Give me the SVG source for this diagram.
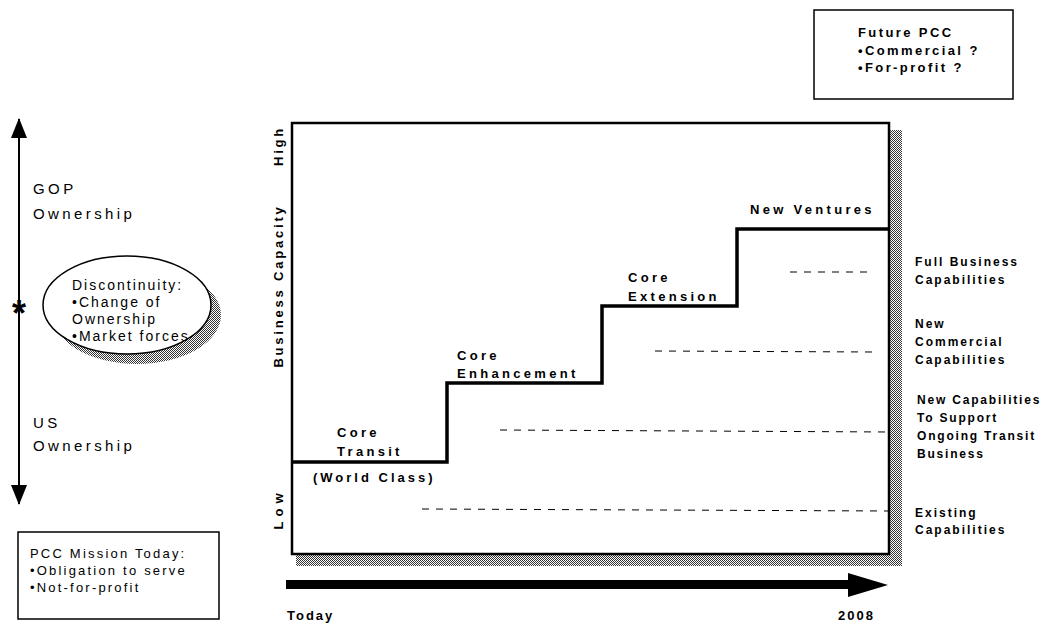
<svg xmlns="http://www.w3.org/2000/svg" width="1059" height="627" viewBox="0 0 1059 627">
<defs>
<pattern id="dots" width="2" height="2" patternUnits="userSpaceOnUse">
<rect width="2" height="2" fill="#fff"/>
<rect width="1" height="1" fill="#333"/>
<rect x="1" y="1" width="1" height="1" fill="#333"/>
</pattern>
<marker id="ah" viewBox="0 0 20 16" refX="19" refY="8" markerWidth="20" markerHeight="16" markerUnits="userSpaceOnUse" orient="auto-start-reverse">
<path d="M0,0 L20,8 L0,16 Z" fill="#000"/>
</marker>
</defs>
<style>
text{font-family:"Liberation Sans",Arial,sans-serif;fill:#000}
.reg{font-size:15px;letter-spacing:3.4px}
.ell{font-size:14px;letter-spacing:2px}
.box{font-size:13px;letter-spacing:2.2px}
.fut{font-size:13px;font-weight:bold;letter-spacing:2.4px}
.bold{font-size:13px;font-weight:bold;letter-spacing:3.3px}
.rl{font-size:12px;font-weight:bold;letter-spacing:2px}
.ax{font-size:13px;font-weight:bold;letter-spacing:2.8px}
.dash{stroke:#000;stroke-width:1;stroke-dasharray:7 7;fill:none}
.frame{fill:#fff;stroke:#000;stroke-width:1.5}
</style>
<rect width="1059" height="627" fill="#fff"/>

<g id="chart">
<rect x="296" y="130" width="606" height="436" fill="url(#dots)"/>
<rect x="292" y="123" width="597" height="431" fill="#fff" stroke="#000" stroke-width="2.5"/>
</g>

<g id="connectors">
<line x1="19" y1="119" x2="19" y2="504" stroke="#000" stroke-width="2" marker-start="url(#ah)" marker-end="url(#ah)"/>
<line class="dash" x1="790" y1="272" x2="872" y2="272"/>
<line class="dash" x1="655" y1="351" x2="872" y2="352"/>
<line class="dash" x1="500" y1="430" x2="889" y2="432"/>
<line class="dash" x1="422" y1="509" x2="889" y2="511"/>
<path d="M292,462 H447 V383 H602 V306 H737 V229 H889" fill="none" stroke="#000" stroke-width="3.5"/>
<rect x="286" y="580" width="564" height="9" fill="#000"/>
<path d="M848,573 L888,585 L848,597 Z" fill="#000"/>
</g>

<g id="star"><text x="19" y="326" text-anchor="middle" style="font-size:36px;font-weight:bold">*</text></g>

<g id="gop"><text class="reg" x="33" y="194">GOP</text><text class="reg" x="33" y="219">Ownership</text></g>
<g id="us"><text class="reg" x="33" y="428">US</text><text class="reg" x="33" y="451">Ownership</text></g>

<g id="discontinuity">
<ellipse cx="137" cy="315" rx="84" ry="49" fill="url(#dots)"/>
<ellipse cx="127" cy="305" rx="84" ry="49" fill="#fff" stroke="#000" stroke-width="1.5"/>
<text class="ell" x="72" y="290">Discontinuity:</text>
<text class="ell" x="72" y="307">•Change of</text>
<text class="ell" x="72" y="324">Ownership</text>
<text class="ell" x="72" y="341">•Market forces</text>
</g>

<g id="mission">
<rect class="frame" x="18" y="532" width="201" height="87"/>
<text class="box" x="30" y="558">PCC Mission Today:</text>
<text class="box" x="30" y="575">•Obligation to serve</text>
<text class="box" x="30" y="592">•Not-for-profit</text>
</g>

<g id="future">
<rect class="frame" x="814" y="10" width="199" height="89"/>
<text class="fut" x="858" y="37">Future PCC</text>
<text class="fut" x="858" y="55">•Commercial ?</text>
<text class="fut" x="858" y="72">•For-profit ?</text>
</g>

<g id="axis-labels">
<text class="ax" transform="translate(283,146) rotate(-90)" text-anchor="middle">High</text>
<text class="ax" transform="translate(283,286) rotate(-90)" text-anchor="middle">Business Capacity</text>
<text class="ax" transform="translate(283,509) rotate(-90)" text-anchor="middle" style="letter-spacing:5px">Low</text>
</g>

<g id="core-transit">
<text class="bold" x="337" y="437">Core</text>
<text class="bold" x="337" y="456">Transit</text>
<text class="bold" x="313" y="482" style="letter-spacing:3px">(World Class)</text>
</g>
<g id="core-enhancement">
<text class="bold" x="457" y="360">Core</text>
<text class="bold" x="457" y="378">Enhancement</text>
</g>
<g id="core-extension">
<text class="bold" x="628" y="282">Core</text>
<text class="bold" x="628" y="301">Extension</text>
</g>
<g id="new-ventures"><text class="bold" x="750" y="214">New Ventures</text></g>

<g id="full-business">
<text class="rl" x="915" y="266">Full Business</text>
<text class="rl" x="915" y="284">Capabilities</text>
</g>
<g id="new-commercial">
<text class="rl" x="915" y="328">New</text>
<text class="rl" x="915" y="346">Commercial</text>
<text class="rl" x="915" y="364">Capabilities</text>
</g>
<g id="new-capabilities">
<text class="rl" x="917" y="404" style="letter-spacing:1.8px">New Capabilities</text>
<text class="rl" x="917" y="422" style="letter-spacing:1.8px">To Support</text>
<text class="rl" x="917" y="440" style="letter-spacing:1.8px">Ongoing Transit</text>
<text class="rl" x="917" y="458" style="letter-spacing:1.8px">Business</text>
</g>
<g id="existing">
<text class="rl" x="915" y="517">Existing</text>
<text class="rl" x="915" y="534">Capabilities</text>
</g>

<g id="time-labels">
<text class="bold" x="287" y="620" style="letter-spacing:2px">Today</text>
<text class="bold" x="838" y="620" style="letter-spacing:2px">2008</text>
</g>
</svg>
